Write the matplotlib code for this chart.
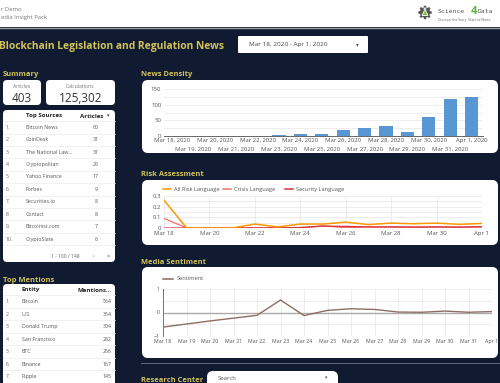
import matplotlib
matplotlib.use('Agg')
import matplotlib.pyplot as plt
from matplotlib.patches import FancyBboxPatch, Rectangle, Circle, Polygon
import numpy as np

plt.rcParams['font.family'] = ['Open Sans', 'DejaVu Sans']

# ---------------- data ----------------
days_full = ['Mar 18, 2020', 'Mar 19, 2020', 'Mar 20, 2020', 'Mar 21, 2020', 'Mar 22, 2020',
             'Mar 23, 2020', 'Mar 24, 2020', 'Mar 25, 2020', 'Mar 26, 2020', 'Mar 27, 2020',
             'Mar 28, 2020', 'Mar 29, 2020', 'Mar 30, 2020', 'Mar 31, 2020', 'Apr 1, 2020']
days_short = ['Mar 18', 'Mar 19', 'Mar 20', 'Mar 21', 'Mar 22', 'Mar 23', 'Mar 24', 'Mar 25',
              'Mar 26', 'Mar 27', 'Mar 28', 'Mar 29', 'Mar 30', 'Mar 31', 'Apr 1']
news_density = [0, 0, 0, 0, 0, 2, 7, 5, 18, 26, 31, 12, 60, 117, 125]

risk_all = [0.26, 0.0, 0.0, 0.0, 0.037, 0.01, 0.037, 0.037, 0.055, 0.032, 0.046, 0.04, 0.046, 0.034, 0.043]
risk_crisis = [0.09, 0.0, 0.0, 0.0, 0.003, 0.003, 0.0, 0.02, 0.003, 0.01, 0.01, 0.005, 0.01, 0.005, 0.01]
risk_security = [0.0, 0.0, 0.0, 0.0, 0.0, 0.0, 0.005, 0.018, 0.015, 0.01, 0.01, 0.01, 0.01, 0.01, 0.012]

sentiment = [-0.62, -0.49, -0.36, -0.24, -0.12, 0.53, -0.13, 0.09, 0.16, 0.13, 0.02, 0.01, 0.06, 0.01, 0.04]

top_sources = ['Bitcoin News', 'CoinDesk', 'The National Law...', 'Cryptopolitan', 'Yahoo Finance',
               'Forbes', 'Securities.io', 'Contact', 'Bitcoinist.com', 'CryptoSlate']
source_articles = [60, 31, 31, 26, 17, 9, 8, 8, 7, 6]

mention_entities = ['Bitcoin', 'U.S.', 'Donald Trump', 'San Francisco', 'BTC', 'Binance', 'Ripple']
mention_counts = [564, 364, 304, 282, 266, 167, 145]

summary_articles = '403'
summary_calcs = '125,302'

# ---------------- style ----------------
W, H = 500, 383
NAVY = '#101b31'
GOLD = '#d3c35a'
TXT = '#555555'
GRID = '#e6e6e6'
BAR = '#5896d4'
C_ALL = '#ff9800'
C_CRI = '#f4706a'
C_SEC = '#d7303a'
C_SEN = '#8d6e63'

fig = plt.figure(figsize=(W / 100, H / 100), dpi=100)
fig.patch.set_facecolor(NAVY)
bg = fig.add_axes([0, 0, 1, 1])
bg.set_xlim(0, W)
bg.set_ylim(H, 0)
bg.axis('off')


def px_axes(x, y, w, h):
    return fig.add_axes([x / W, 1 - (y + h) / H, w / W, h / H])


def rbox(x, y, w, h, r=4, fc='white', ec='none', lw=0, z=1):
    p = FancyBboxPatch((x + r, y + r), w - 2 * r, h - 2 * r,
                       boxstyle=f'round,pad={r}', fc=fc, ec=ec, lw=lw, zorder=z)
    bg.add_patch(p)


def t(x, y, s, size=4.3, color=TXT, ha='left', va='center', weight='normal', **kw):
    bg.text(x, y, s, fontsize=size, color=color, ha=ha, va=va, fontweight=weight, **kw)


# ---------------- header ----------------
bg.add_patch(Rectangle((0, 0), W, 27, fc='white', ec='none', zorder=1))
bg.plot([0, W], [27.5, 27.5], color='#a0a0a0', lw=1, zorder=2)
t(1, 9.5, 'r Demo', size=4.2, color='#777777')
t(1, 17.5, 'edia Insight Pack', size=4.2, color='#777777')
# logo
bg.add_patch(Circle((425, 12.5), 5.2, fc='#555555', ec='none', zorder=2))
for ang in np.linspace(0, 2 * np.pi, 8, endpoint=False):
    bg.add_patch(Circle((425 + 5.6 * np.cos(ang), 12.5 + 5.6 * np.sin(ang)), 1.3,
                        fc='#555555', ec='none', zorder=2))
bg.add_patch(Polygon([[422, 15.5], [428, 15.5], [425.8, 11], [425.8, 8], [424.2, 8], [424.2, 11]],
                     closed=True, fc='#7dc242', ec='white', lw=0.6, zorder=3))
t(438, 11.5, 'Science', size=4.6, color='#555555', family='DejaVu Sans Mono')
t(471, 11.0, '4', size=8, color='#5cb531', weight='bold')
t(478, 11.5, 'Data', size=4.6, color='#555555', family='DejaVu Sans Mono')
t(438, 20.5, 'Discover the Story. Skip the Noise.', size=2.4, color='#666666')

# ---------------- title / date ----------------
t(-1, 46, 'Blockchain Legislation and Regulation News', size=7.4, color=GOLD, weight='bold')
rbox(238, 36, 130, 17, r=1)
t(249, 44.5, 'Mar 18, 2020 - Apr 1, 2020', size=4.6, color='#444444')
t(357, 44.5, '▾', size=4, color='#555555', ha='center', family='DejaVu Sans')

# ---------------- summary ----------------
t(3, 75, 'Summary', size=5.4, color=GOLD, weight='bold')
rbox(3, 80, 38, 25, r=4)
t(22, 87, 'Articles', size=3.7, color='#777777', ha='center')
t(22, 98, summary_articles, size=8.5, color='#333333', ha='center')
rbox(46, 80, 69, 25, r=4)
t(80.5, 87, 'Calculations', size=3.7, color='#777777', ha='center')
t(80.5, 98, summary_calcs, size=8.5, color='#333333', ha='center')

# ---------------- top sources table ----------------
rbox(3, 110, 112, 152, r=4)
t(26, 116, 'Top Sources', size=4.4, color='#222222', weight='bold')
t(103, 116, 'Articles', size=4.4, color='#222222', weight='bold', ha='right')
t(108.5, 116, '▾', size=3.5, color='#333333', ha='center', family='DejaVu Sans')
y0, dy = 127.3, 12.42
for i, (name, val) in enumerate(zip(top_sources, source_articles)):
    yy = y0 + i * dy
    bg.plot([3, 115], [yy - dy / 2, yy - dy / 2], color='#ececec', lw=0.5, zorder=2)
    t(6, yy, f'{i + 1}.', size=3.7, color='#666666')
    t(26, yy, name, size=3.8, color='#555555')
    t(96, yy, str(val), size=3.8, color='#555555', ha='center')
bg.plot([3, 115], [y0 + 10 * dy - dy / 2] * 2, color='#ececec', lw=0.5, zorder=2)
t(65, 256, '1 - 100 / 148', size=3.6, color='#666666', ha='center')
t(93, 256, '<', size=4.2, color='#aaaaaa', ha='center')
t(108, 256, '>', size=4.2, color='#333333', ha='center')

# ---------------- top mentions table ----------------
t(3, 280, 'Top Mentions', size=5.4, color=GOLD, weight='bold')
rbox(3, 284, 112, 120, r=4)
t(22, 290, 'Entity', size=4.4, color='#222222', weight='bold')
t(112, 290, 'Mentions...', size=4.4, color='#222222', weight='bold', ha='right')
y0, dy = 301.7, 12.5
for i, (name, val) in enumerate(zip(mention_entities, mention_counts)):
    yy = y0 + i * dy
    bg.plot([3, 115], [yy - dy / 2, yy - dy / 2], color='#ececec', lw=0.5, zorder=2)
    t(6, yy, f'{i + 1}.', size=3.7, color='#666666')
    t(22, yy, name, size=3.8, color='#555555')
    t(112, yy, str(val), size=3.8, color='#555555', ha='right')

# ---------------- news density ----------------
t(141, 75, 'News Density', size=5.4, color=GOLD, weight='bold')
rbox(142, 80, 356, 73, r=6)
ax1 = px_axes(164, 89, 319, 47)
x = np.arange(len(days_full))
ax1.bar(x, news_density, width=0.62, color=BAR, zorder=3)
ax1.set_xlim(-0.37, 14.53)
ax1.set_ylim(0, 150)
ax1.set_yticks([0, 50, 100, 150])
ax1.set_yticks(np.arange(0, 151, 25), minor=True)
ax1.yaxis.grid(True, which='both', color=GRID, lw=0.5, zorder=0)
ax1.set_xticks(x[::2])
ax1.set_xticklabels(days_full[::2])
ax1.set_xticks(x[1::2], minor=True)
ax1.set_xticklabels(days_full[1::2], minor=True)
ax1.tick_params(axis='both', which='both', length=0, labelsize=4.3, labelcolor=TXT, pad=2)
ax1.tick_params(axis='x', which='major', pad=1.5)
ax1.tick_params(axis='x', which='minor', pad=7.5)
for s in ['top', 'right', 'left']:
    ax1.spines[s].set_visible(False)
ax1.spines['bottom'].set_color('#666666')
ax1.spines['bottom'].set_linewidth(0.7)
ax1.set_facecolor('none')

# ---------------- risk assessment ----------------
t(141, 175, 'Risk Assessment', size=5.4, color=GOLD, weight='bold')
rbox(142, 180, 356, 65, r=6)
ax2 = px_axes(164, 196, 318, 32)
ax2.plot(x, risk_all, color=C_ALL, lw=1.1, zorder=4)
ax2.plot(x, risk_crisis, color=C_CRI, lw=0.9, zorder=3)
ax2.plot(x, risk_security, color=C_SEC, lw=0.9, zorder=3)
ax2.set_xlim(0, 14)
ax2.set_ylim(0, 0.3)
ax2.set_yticks([0, 0.1, 0.2, 0.3])
ax2.set_yticklabels(['0', '0.1', '0.2', '0.3'])
ax2.set_yticks(np.arange(0, 0.31, 0.05), minor=True)
ax2.set_xticks(x[::2])
ax2.set_xticklabels(days_short[::2])
ax2.grid(which='both', color=GRID, lw=0.5, zorder=0)
ax2.tick_params(axis='both', which='both', length=0, labelsize=4.3, labelcolor=TXT, pad=2)
for s in ax2.spines.values():
    s.set_visible(False)
ax2.set_facecolor('none')
# legend
for lx, col, lab in [(163, C_ALL, 'All Risk Language'), (223, C_CRI, 'Crisis Language'),
                     (285, C_SEC, 'Security Language')]:
    bg.plot([lx, lx + 8], [189, 189], color=col, lw=1.1, zorder=3)
    t(lx + 11.5, 189, lab, size=4.1, color=TXT)

# ---------------- media sentiment ----------------
t(141, 263, 'Media Sentiment', size=5.4, color=GOLD, weight='bold')
rbox(142, 267, 356, 91, r=6)
ax3 = px_axes(163, 289, 329, 47)
ax3.axhline(0, color='#aaaaaa', lw=1, zorder=2)
ax3.plot(x, sentiment, color=C_SEN, lw=1, zorder=4)
ax3.set_xlim(0, 14)
ax3.set_ylim(-1, 1)
ax3.set_yticks([-1, 0, 1])
ax3.set_yticks([-0.5, 0.5], minor=True)
ax3.set_xticks(x)
ax3.set_xticklabels(days_short)
ax3.grid(which='both', color=GRID, lw=0.5, zorder=0)
ax3.tick_params(axis='both', which='both', length=0, labelsize=3.8, labelcolor=TXT, pad=2.5)
for s in ['top', 'right', 'bottom']:
    ax3.spines[s].set_visible(False)
ax3.spines['left'].set_color('#777777')
ax3.spines['left'].set_linewidth(0.7)
ax3.set_facecolor('none')
bg.plot([163, 173], [279, 279], color=C_SEN, lw=1.1, zorder=3)
t(176.5, 279, 'Sentiment', size=4.1, color=TXT)

# ---------------- research center ----------------
bg.plot([141, W], [363, 363], color='#6b7385', lw=0.6, zorder=2)
t(141, 380, 'Research Center', size=5.4, color=GOLD, weight='bold')
rbox(207, 371, 131, 18, r=6)
t(218, 378, 'Search', size=4.3, color='#555555')
t(326, 378, '▾', size=3.5, color='#555555', ha='center', family='DejaVu Sans')

fig.savefig('out.png', dpi=100, facecolor=NAVY)
